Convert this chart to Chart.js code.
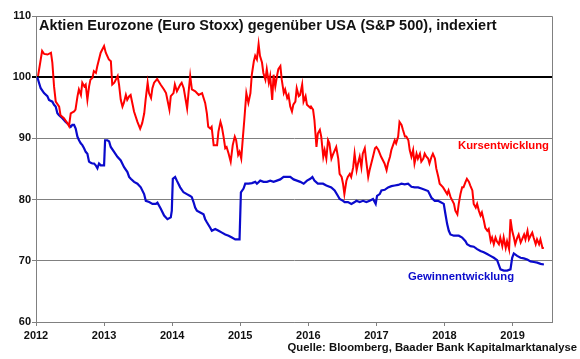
<!DOCTYPE html>
<html>
<head>
<meta charset="utf-8">
<script src="https://cdn.jsdelivr.net/npm/chart.js@4"></script>
<style>
  html, body { margin: 0; padding: 0; background: #fff; }
  #wrap { width: 580px; height: 359px; }
</style>
</head>
<body>
<div id="wrap"><canvas id="chart" width="580" height="359"></canvas></div>
<script>
// Kursentwicklung (red), dates as decimal years
const kursDates = [
  2012.03, 2012.09, 2012.12, 2012.17, 2012.22, 2012.24, 2012.265, 2012.29, 2012.34, 2012.36,
  2012.41, 2012.46, 2012.485, 2012.51, 2012.56, 2012.58, 2012.61, 2012.63, 2012.66, 2012.68,
  2012.71, 2012.73, 2012.755, 2012.78, 2012.80, 2012.83, 2012.85, 2012.88, 2012.90, 2012.95,
  2013.00, 2013.025, 2013.07, 2013.10, 2013.12, 2013.15, 2013.20, 2013.22, 2013.245, 2013.27,
  2013.29, 2013.32, 2013.34, 2013.37, 2013.39, 2013.42, 2013.44, 2013.49, 2013.53, 2013.56,
  2013.59, 2013.61, 2013.64, 2013.66, 2013.69, 2013.71, 2013.735, 2013.78, 2013.83, 2013.88,
  2013.91, 2013.96, 2013.98,
  2014.02, 2014.04, 2014.07, 2014.12, 2014.14, 2014.17, 2014.22, 2014.24, 2014.265, 2014.29,
  2014.34, 2014.39, 2014.44, 2014.485, 2014.51, 2014.53, 2014.56, 2014.58, 2014.61, 2014.66,
  2014.68, 2014.71, 2014.73, 2014.755, 2014.78, 2014.80, 2014.83, 2014.86, 2014.89, 2014.92,
  2014.94, 2014.97, 2014.99, 2015.015, 2015.04, 2015.06, 2015.09, 2015.12, 2015.15, 2015.17,
  2015.20, 2015.22, 2015.245, 2015.27, 2015.29, 2015.32, 2015.34, 2015.37, 2015.39, 2015.42,
  2015.44, 2015.47, 2015.49, 2015.515, 2015.54, 2015.56, 2015.59, 2015.61, 2015.64, 2015.66,
  2015.69, 2015.71, 2015.735, 2015.76, 2015.78, 2015.81, 2015.83, 2015.86, 2015.88, 2015.91,
  2015.93, 2015.96, 2015.98,
  2016.03, 2016.04, 2016.07, 2016.09, 2016.12, 2016.14, 2016.17, 2016.19, 2016.22, 2016.24,
  2016.265, 2016.29, 2016.31, 2016.34, 2016.36, 2016.39, 2016.41, 2016.44, 2016.46, 2016.49,
  2016.51, 2016.53, 2016.56, 2016.58, 2016.61, 2016.63, 2016.66, 2016.68, 2016.71, 2016.73,
  2016.755, 2016.78, 2016.80, 2016.83, 2016.85, 2016.88, 2016.90, 2016.95, 2016.98, 2017.00,
  2017.03, 2017.07, 2017.12, 2017.15, 2017.17, 2017.20, 2017.22, 2017.245, 2017.27, 2017.29,
  2017.32, 2017.34, 2017.37, 2017.39, 2017.42, 2017.44, 2017.47, 2017.49, 2017.515, 2017.54,
  2017.56, 2017.59, 2017.61, 2017.64, 2017.66, 2017.69, 2017.71, 2017.735, 2017.76, 2017.78,
  2017.81, 2017.83, 2017.86, 2017.88, 2017.91, 2017.93, 2017.98,
  2018.04, 2018.06, 2018.09, 2018.14, 2018.16, 2018.19, 2018.21, 2018.235, 2018.26, 2018.28,
  2018.31, 2018.33, 2018.36, 2018.38, 2018.41, 2018.43, 2018.46, 2018.48, 2018.505, 2018.53,
  2018.55, 2018.58, 2018.60, 2018.63, 2018.65, 2018.68, 2018.70, 2018.725, 2018.75, 2018.77,
  2018.80, 2018.82, 2018.85, 2018.87, 2018.90, 2018.92, 2018.95, 2018.97, 2018.995, 2019.02,
  2019.04, 2019.07, 2019.09, 2019.12, 2019.14, 2019.17, 2019.19, 2019.22, 2019.24, 2019.265,
  2019.29, 2019.31, 2019.34, 2019.36, 2019.39, 2019.41, 2019.44, 2019.46
];
const kursValues = [
  100.2, 104.3, 103.8, 103.7, 104.0, 102.4, 98.5, 96.0, 95.2, 93.8,
  93.3, 92.5, 92.0, 94.1, 94.4, 94.7, 96.9, 98.0, 97.1, 99.1,
  98.5, 98.8, 96.3, 98.5, 99.6, 99.9, 101.0, 100.7, 101.8, 104.0,
  105.1, 104.0, 102.9, 102.6, 98.8, 99.1, 100.2, 98.8, 96.3, 95.2,
  95.8, 97.1, 96.3, 96.9, 97.1, 95.5, 94.4, 92.7, 91.6, 92.5,
  94.1, 96.3, 99.1, 97.4, 96.6, 98.2, 99.1, 99.7, 98.8, 98.0,
  97.4, 94.7, 96.9,
  97.4, 98.8, 97.7, 98.8, 99.1, 98.2, 94.9, 97.4, 100.2, 98.0,
  97.7, 97.1, 97.4, 95.8, 94.1, 91.9, 91.6, 91.9, 88.9, 88.9,
  91.1, 92.7, 91.9, 90.3, 88.4, 88.6, 87.5, 86.2, 88.9, 90.3,
  89.7, 87.3, 87.8, 86.7, 90.3, 93.0, 97.4, 95.8, 97.4, 100.4,
  102.6, 103.5, 102.9, 105.4, 103.5, 102.4, 100.7, 99.6, 101.3, 99.1,
  100.2, 96.3, 100.4, 98.5, 100.2, 101.3, 101.8, 99.6, 97.4, 98.0,
  96.6, 97.1, 95.2, 94.4, 95.5, 96.0, 98.2, 96.9, 97.1, 98.8,
  96.0, 96.9, 95.5,
  95.0, 95.2, 94.7, 93.0, 88.6, 90.8, 91.4, 90.3, 87.0, 88.1,
  86.7, 89.7, 89.2, 86.7, 87.3, 88.1, 88.6, 86.7, 84.2, 83.7,
  82.6, 80.9, 83.1, 83.7, 84.2, 83.7, 85.3, 87.5, 84.8, 85.9,
  87.0, 85.3, 87.5, 88.4, 86.4, 83.7, 84.8, 87.0, 88.4, 88.6,
  88.1, 87.0, 85.9, 84.8, 85.9, 87.0, 88.1, 88.9, 89.7, 89.2,
  90.3, 92.7, 92.2, 91.4, 90.3, 90.3, 89.7, 88.1, 87.0, 88.1,
  85.9, 87.5, 86.7, 87.5, 86.2, 86.7, 87.5, 87.0, 86.7, 85.9,
  87.0, 87.5, 86.7, 85.1, 83.7, 82.6, 82.0,
  80.9, 81.5, 80.4, 79.3, 78.2, 77.6, 79.3, 80.9, 82.0, 82.0,
  82.9, 83.4, 82.9, 82.3, 81.5, 79.3, 78.7, 79.3, 78.2, 77.4,
  77.9, 76.5, 75.4, 74.9, 75.2, 73.2, 73.8, 72.7, 73.8, 73.2,
  72.7, 73.8, 72.4, 73.8, 72.1, 73.2, 71.9, 76.8, 74.9, 73.8,
  72.7, 73.8, 74.3, 73.0, 73.5, 74.3, 73.5, 74.9, 73.5, 74.1,
  74.6, 73.8, 72.7, 73.5, 72.7, 73.5, 72.1, 72.1
];

// Gewinnentwicklung (blue)
const gewinnDates = [
  2012.02, 2012.044, 2012.069, 2012.118, 2012.167, 2012.191, 2012.24, 2012.265, 2012.289, 2012.314,
  2012.338, 2012.387, 2012.436, 2012.485, 2012.51, 2012.534, 2012.559, 2012.583, 2012.608, 2012.632,
  2012.657, 2012.681, 2012.706, 2012.73, 2012.755, 2012.779, 2012.804, 2012.828, 2012.853, 2012.877,
  2012.902, 2012.926, 2012.951, 2013.0, 2013.015, 2013.049, 2013.074, 2013.098, 2013.147, 2013.196,
  2013.245, 2013.294, 2013.343, 2013.368, 2013.392, 2013.441, 2013.49, 2013.539, 2013.588, 2013.613,
  2013.662, 2013.711, 2013.76, 2013.784, 2013.833, 2013.882, 2013.931, 2013.98, 2013.995, 2014.01,
  2014.044, 2014.069, 2014.118, 2014.167, 2014.216, 2014.265, 2014.289, 2014.314, 2014.338, 2014.363,
  2014.412, 2014.461, 2014.485, 2014.51, 2014.559, 2014.583, 2014.633, 2014.682, 2014.731, 2014.78,
  2014.829, 2014.878, 2014.927, 2014.99, 2015.01, 2015.049, 2015.074, 2015.123, 2015.172, 2015.221,
  2015.245, 2015.294, 2015.343, 2015.392, 2015.441, 2015.49, 2015.539, 2015.588, 2015.637, 2015.686,
  2015.735, 2015.784, 2015.833, 2015.882, 2015.932, 2015.981, 2016.03, 2016.06, 2016.09, 2016.14,
  2016.216, 2016.265, 2016.338, 2016.387, 2016.436, 2016.461, 2016.51, 2016.534, 2016.583, 2016.633,
  2016.682, 2016.706, 2016.755, 2016.804, 2016.853, 2016.902, 2016.951, 2016.99, 2017.01, 2017.049,
  2017.074, 2017.123, 2017.172, 2017.221, 2017.27, 2017.319, 2017.368, 2017.417, 2017.466, 2017.515,
  2017.564, 2017.613, 2017.662, 2017.711, 2017.76, 2017.809, 2017.858, 2017.907, 2017.94, 2017.99,
  2018.015, 2018.04, 2018.064, 2018.088, 2018.137, 2018.211, 2018.26, 2018.309, 2018.333, 2018.382,
  2018.431, 2018.48, 2018.529, 2018.578, 2018.627, 2018.676, 2018.725, 2018.774, 2018.823, 2018.872,
  2018.921, 2018.97, 2018.995, 2019.019, 2019.068, 2019.118, 2019.166, 2019.216, 2019.265, 2019.314,
  2019.363, 2019.412, 2019.461
];
const gewinnValues = [
  100.0, 99.1, 98.2, 97.4, 96.9, 96.3, 96.0, 95.5, 95.2, 94.1,
  93.8, 93.3, 92.7, 92.2, 91.9, 92.2, 92.2, 91.6, 90.3, 89.7,
  89.2, 88.9, 88.4, 87.8, 87.5, 86.2, 86.0, 85.9, 85.9, 85.6,
  85.1, 85.9, 85.6, 85.6, 89.7, 89.7, 89.5, 88.6, 87.8, 87.0,
  86.4, 85.3, 84.5, 83.7, 83.4, 82.9, 82.6, 82.0, 80.9, 79.8,
  79.6, 79.3, 79.3, 79.5, 78.5, 77.4, 76.8, 77.1, 78.2, 83.4,
  83.7, 83.1, 82.0, 81.2, 80.9, 80.6, 80.4, 79.6, 78.7, 78.2,
  77.9, 77.6, 76.8, 76.3, 75.4, 74.9, 75.2, 74.9, 74.6, 74.3,
  74.1, 73.8, 73.5, 73.5, 81.2, 81.8, 82.6, 82.6, 82.7, 82.9,
  82.6, 83.1, 82.9, 82.9, 83.1, 82.9, 83.1, 83.3, 83.7, 83.7,
  83.7, 83.3, 83.1, 82.9, 82.6, 83.1, 83.4, 83.7, 83.1, 82.6,
  82.6, 82.3, 82.0, 81.5, 80.6, 80.1, 79.8, 79.6, 79.6, 79.3,
  79.6, 79.8, 79.6, 79.8, 79.6, 79.8, 80.1, 79.3, 80.6, 80.9,
  81.5, 81.6, 82.0, 82.2, 82.3, 82.4, 82.6, 82.5, 82.6, 82.1,
  82.0, 82.0, 81.8, 81.6, 81.4, 80.3, 79.8, 79.8, 79.6, 79.3,
  77.6, 76.0, 74.9, 74.3, 74.1, 74.1, 73.8, 73.2, 72.7, 72.4,
  72.3, 71.9, 71.6, 71.4, 71.1, 70.8, 70.5, 70.1, 68.6, 68.4,
  68.4, 68.6, 70.5, 71.2, 70.8, 70.5, 70.4, 70.2, 69.9, 69.8,
  69.7, 69.5, 69.4
];

const yMin = 60, yMax = 110, yStep = 10;
const xMin = 2012, xMax = 2019.58;

const titleText = "Aktien Eurozone (Euro Stoxx) gegenüber USA (S&P 500), indexiert";
const sourceText = "Quelle: Bloomberg, Baader Bank Kapitalmarktanalyse";
const kursLabel = "Kursentwicklung";
const gewinnLabel = "Gewinnentwicklung";

const FONT = "'Liberation Sans', Arial, sans-serif";
const RED = "#ff0000";
const BLUE = "#0a0acc";
const GRID = "#808080";

const toPoints = (xs, ys) => xs.map((x, i) => ({ x: x, y: ys[i] }));

const textPlugin = {
    id: "texts",
    afterDraw(chart) {
        const ctx = chart.ctx;
        const area = chart.chartArea;
        const ys = chart.scales.y;
        ctx.save();
        // frame top / right
        ctx.strokeStyle = GRID;
        ctx.lineWidth = 1;
        ctx.beginPath();
        ctx.moveTo(area.left, area.top + 0.5);
        ctx.lineTo(area.right + 0.5, area.top + 0.5);
        ctx.lineTo(area.right + 0.5, area.bottom);
        ctx.stroke();

        ctx.textBaseline = "middle";
        ctx.fillStyle = "#111";
        ctx.font = "bold 14.5px " + FONT;
        ctx.textAlign = "left";
        ctx.fillText(titleText, area.left + 3, 26);

        ctx.font = "bold 11.3px " + FONT;
        ctx.fillStyle = RED;
        ctx.textAlign = "right";
        ctx.fillText(kursLabel, 549, ys.getPixelForValue(88.7));

        ctx.fillStyle = BLUE;
        ctx.textAlign = "center";
        ctx.fillText(gewinnLabel, 461, ys.getPixelForValue(67.3));

        ctx.fillStyle = "#111";
        ctx.textAlign = "right";
        ctx.fillText(sourceText, 577, 348);
        ctx.restore();
    }
};

const ctx = document.getElementById("chart").getContext("2d");
new Chart(ctx, {
    type: "line",
    data: {
        datasets: [
            {
                label: kursLabel,
                data: toPoints(kursDates, kursValues),
                borderColor: RED,
                borderWidth: 2,
                pointRadius: 0,
                tension: 0,
            },
            {
                label: gewinnLabel,
                data: toPoints(gewinnDates, gewinnValues),
                borderColor: BLUE,
                borderWidth: 2.2,
                pointRadius: 0,
                tension: 0,
            },
        ],
    },
    options: {
        responsive: false,
        animation: false,
        devicePixelRatio: 1,
        layout: { padding: { left: 0, top: 16, right: 28, bottom: 0 } },
        plugins: {
            legend: { display: false },
            tooltip: { enabled: false },
        },
        scales: {
            x: {
                type: "linear",
                min: xMin,
                max: xMax,
                afterFit: (s) => { s.height = 37; },
                border: { color: GRID, width: 1 },
                grid: { drawOnChartArea: false, color: GRID, tickLength: 4 },
                ticks: {
                    stepSize: 1,
                    includeBounds: false,
                    autoSkip: false,
                    maxRotation: 0,
                    padding: 3,
                    color: "#111",
                    font: { family: FONT, size: 11, weight: "bold" },
                    callback: (v) => (Number.isInteger(v) ? String(v) : ""),
                },
            },
            y: {
                min: yMin,
                max: yMax,
                afterFit: (s) => { s.width = 36; },
                border: { color: GRID, width: 1 },
                grid: {
                    color: (c) => (c.tick && c.tick.value === 100 ? "#000" : GRID),
                    lineWidth: (c) => (c.tick && c.tick.value === 100 ? 2 : 1),
                    tickLength: 4,
                },
                ticks: {
                    stepSize: yStep,
                    padding: 1,
                    color: "#111",
                    font: { family: FONT, size: 11, weight: "bold" },
                },
            },
        },
    },
    plugins: [textPlugin],
});
</script>
</body>
</html>
